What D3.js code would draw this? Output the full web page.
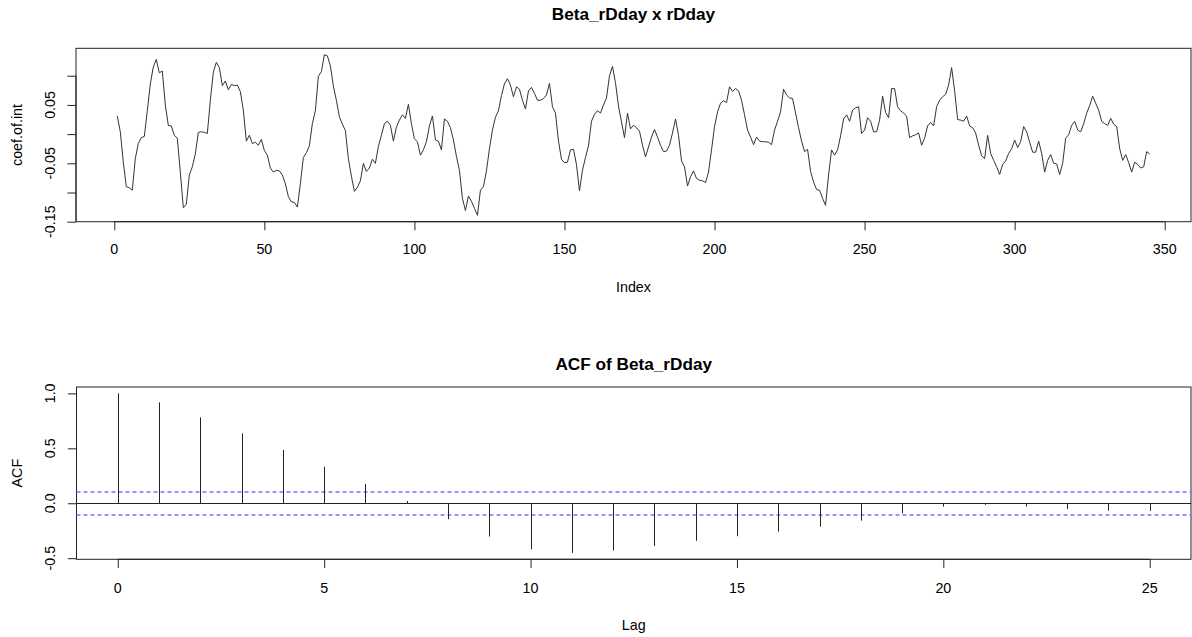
<!DOCTYPE html>
<html>
<head>
<meta charset="utf-8">
<script src="https://cdn.jsdelivr.net/npm/d3@7"></script>
<style>
  html, body { margin: 0; padding: 0; background: #fff; }
  svg { display: block; }
  text { font-family: "Liberation Sans", Arial, Helvetica, sans-serif; fill: #000; }
</style>
</head>
<body>
<svg id="chart" width="1192" height="637"></svg>
<script>
// ---------------- DATA ----------------
const topTitle = "Beta_rDday x rDday";
const topXLabel = "Index";
const topYLabel = "coef.of.int";
// coef.of.int for Index 1..345
const coefValues = [
  0.031, 0.004, -0.048, -0.090, -0.092, -0.096, -0.042, -0.016, -0.006, -0.004,
  0.040, 0.086, 0.115, 0.128, 0.105, 0.108, 0.050, 0.015, 0.014, -0.002,
  -0.007, -0.065, -0.126, -0.120, -0.070, -0.056, -0.034, 0.003, 0.004, 0.003,
  0.001, 0.058, 0.106, 0.123, 0.114, 0.083, 0.091, 0.076, 0.085, 0.083,
  0.084, 0.073, 0.041, -0.012, -0.002, -0.016, -0.014, -0.019, -0.009, -0.028,
  -0.036, -0.058, -0.065, -0.062, -0.063, -0.070, -0.085, -0.107, -0.116, -0.117,
  -0.125, -0.085, -0.040, -0.032, -0.020, 0.018, 0.040, 0.099, 0.107, 0.136,
  0.134, 0.117, 0.082, 0.058, 0.030, 0.017, 0.006, -0.042, -0.072, -0.098,
  -0.091, -0.080, -0.050, -0.064, -0.058, -0.043, -0.050, -0.021, -0.002, 0.018,
  0.022, 0.015, -0.012, 0.012, 0.024, 0.033, 0.027, 0.051, 0.018, -0.008,
  -0.013, -0.036, -0.027, -0.013, 0.014, 0.031, -0.010, -0.012, -0.027, 0.026,
  0.022, 0.011, -0.010, -0.038, -0.062, -0.110, -0.131, -0.106, -0.115, -0.127,
  -0.139, -0.096, -0.090, -0.063, -0.025, 0.007, 0.029, 0.040, 0.066, 0.086,
  0.095, 0.084, 0.064, 0.081, 0.077, 0.058, 0.043, 0.074, 0.080, 0.070,
  0.058, 0.058, 0.061, 0.067, 0.087, 0.047, 0.036, -0.012, -0.043, -0.049,
  -0.048, -0.027, -0.026, -0.052, -0.097, -0.062, -0.040, -0.020, 0.022, 0.034,
  0.040, 0.036, 0.050, 0.062, 0.100, 0.116, 0.088, 0.048, 0.021, -0.006,
  0.036, 0.009, 0.015, 0.011, 0.005, -0.019, -0.039, -0.022, -0.005, 0.008,
  -0.005, -0.019, -0.030, -0.029, -0.019, 0.002, 0.026, -0.002, -0.046, -0.056,
  -0.089, -0.073, -0.063, -0.076, -0.079, -0.080, -0.083, -0.065, -0.027, 0.013,
  0.038, 0.053, 0.057, 0.054, 0.081, 0.073, 0.078, 0.074, 0.058, 0.033,
  0.007, -0.005, -0.018, -0.005, -0.012, -0.013, -0.013, -0.014, -0.018, 0.007,
  0.022, 0.038, 0.077, 0.067, 0.062, 0.061, 0.036, 0.011, -0.012, -0.030,
  -0.026, -0.064, -0.082, -0.095, -0.096, -0.110, -0.122, -0.070, -0.027, -0.036,
  -0.027, -0.003, 0.026, 0.033, 0.022, 0.041, 0.045, 0.047, 0.001, 0.007,
  0.028, 0.022, 0.004, 0.004, 0.024, 0.065, 0.037, 0.028, 0.078, 0.078,
  0.047, 0.040, 0.036, 0.031, -0.006, -0.003, -0.001, 0.002, -0.019, -0.007,
  0.014, 0.020, 0.014, 0.047, 0.058, 0.064, 0.068, 0.084, 0.114, 0.074,
  0.025, 0.024, 0.022, 0.031, 0.014, 0.011, 0.002, -0.019, -0.037, -0.042,
  -0.002, -0.033, -0.045, -0.056, -0.069, -0.052, -0.046, -0.033, -0.025, -0.010,
  -0.023, -0.013, 0.013, 0.004, -0.014, -0.031, -0.031, -0.012, -0.033, -0.065,
  -0.045, -0.035, -0.050, -0.051, -0.069, -0.050, -0.007, -0.001, 0.015, 0.022,
  0.007, 0.004, 0.018, 0.036, 0.049, 0.065, 0.053, 0.041, 0.022, 0.018,
  0.015, 0.027, 0.017, 0.013, -0.025, -0.045, -0.035, -0.049, -0.065, -0.048,
  -0.052, -0.058, -0.056, -0.030, -0.034
];
const topXTicks = [0, 50, 100, 150, 200, 250, 300, 350];
const topYTicks = [-0.15, -0.10, -0.05, 0.00, 0.05, 0.10];
const topYTickLabels = ["-0.15", "", "-0.05", "", "0.05", ""];

const acfTitle = "ACF of Beta_rDday";
const acfXLabel = "Lag";
const acfYLabel = "ACF";
const acfLags = [0,1,2,3,4,5,6,7,8,9,10,11,12,13,14,15,16,17,18,19,20,21,22,23,24,25];
const acfValues = [1.000, 0.918, 0.782, 0.636, 0.485, 0.333, 0.176, 0.021, -0.145, -0.303,
                   -0.420, -0.452, -0.430, -0.388, -0.342, -0.300, -0.258, -0.212, -0.158, -0.091,
                   -0.030, -0.015, -0.030, -0.052, -0.067, -0.070];
const acfCI = 0.1055;
const acfXTicks = [0, 5, 10, 15, 20, 25];
const acfYTicks = [-0.5, 0.0, 0.5, 1.0];
const acfYTickLabels = ["-0.5", "0.0", "0.5", "1.0"];

// ---------------- DRAWING ----------------
const svg = d3.select("#chart");
const FS = 14.3, TFS = 17.2, TICK = 8.6;
const INK = "#222";
const snap = v => Math.round(v) + 0.5;

function rRange(lo, hi) { const e = (hi - lo) * 0.04; return [lo - e, hi + e]; }

function panel(cfg) {
  const g = svg.append("g");
  const x = d3.scaleLinear().domain(cfg.xDomain).range([cfg.left, cfg.right]);
  const y = d3.scaleLinear().domain(cfg.yDomain).range([cfg.bottom, cfg.top]);

  g.append("rect").attr("x", cfg.left).attr("y", cfg.top)
    .attr("width", cfg.right - cfg.left).attr("height", cfg.bottom - cfg.top)
    .attr("fill", "none").attr("stroke", INK).attr("stroke-width", 1);

  const xa = g.append("g").attr("transform", `translate(0,${cfg.bottom})`)
    .call(d3.axisBottom(x).tickValues(cfg.xTicks).tickSize(TICK).tickPadding(0).tickFormat(""));
  xa.select(".domain").remove();
  xa.selectAll(".tick line").attr("stroke", INK);
  g.append("line").attr("x1", x(cfg.xTicks[0])).attr("x2", x(cfg.xTicks[cfg.xTicks.length - 1]))
    .attr("y1", cfg.bottom).attr("y2", cfg.bottom).attr("stroke", INK);
  g.selectAll(".xlab").data(cfg.xTicks).join("text")
    .attr("x", d => x(d)).attr("y", cfg.xLabY)
    .attr("text-anchor", "middle").attr("dominant-baseline", "central")
    .style("font-size", FS + "px").text(d => String(d));

  const ya = g.append("g").attr("transform", `translate(${cfg.left},0)`)
    .call(d3.axisLeft(y).tickValues(cfg.yTicks).tickSize(TICK).tickFormat(""));
  ya.select(".domain").remove();
  ya.selectAll(".tick line").attr("stroke", INK);
  g.append("line").attr("x1", cfg.left).attr("x2", cfg.left)
    .attr("y1", y(cfg.yTicks[0])).attr("y2", y(cfg.yTicks[cfg.yTicks.length - 1])).attr("stroke", INK);
  g.selectAll(".ylab").data(cfg.yTicks.map((v, i) => ({ v, t: cfg.yTickLabels[i] })).filter(d => d.t))
    .join("text")
    .attr("transform", d => `translate(${cfg.yLabX},${y(d.v)}) rotate(-90)`)
    .attr("text-anchor", "middle").attr("dominant-baseline", "central")
    .style("font-size", FS + "px").text(d => d.t);

  g.append("text").attr("x", (cfg.left + cfg.right) / 2).attr("y", cfg.titleY)
    .attr("text-anchor", "middle").attr("dominant-baseline", "central")
    .style("font-size", TFS + "px").style("font-weight", "bold").text(cfg.title);
  g.append("text").attr("x", (cfg.left + cfg.right) / 2).attr("y", cfg.xTitleY)
    .attr("text-anchor", "middle").attr("dominant-baseline", "central")
    .style("font-size", FS + "px").text(cfg.xTitle);
  g.append("text").attr("transform", `translate(${cfg.yTitleX},${(cfg.top + cfg.bottom) / 2}) rotate(-90)`)
    .attr("text-anchor", "middle").attr("dominant-baseline", "central")
    .style("font-size", FS + "px").text(cfg.yTitle);

  return { g, x, y };
}

// top panel: time series
const idx = coefValues.map((v, i) => i + 1);
const tsPanel = panel({
  left: 76, right: 1191, top: 48.3, bottom: 221.7,
  xDomain: rRange(1, coefValues.length),
  yDomain: rRange(d3.min(coefValues), d3.max(coefValues)),
  xTicks: topXTicks, yTicks: topYTicks, yTickLabels: topYTickLabels,
  xLabY: 248.5, yLabX: 49.5, titleY: 13.5, xTitleY: 287, yTitleX: 17,
  title: topTitle, xTitle: topXLabel, yTitle: topYLabel
});
tsPanel.g.append("path")
  .datum(coefValues)
  .attr("fill", "none").attr("stroke", "#333").attr("stroke-width", 1)
  .attr("stroke-linejoin", "round")
  .attr("d", d3.line().x((d, i) => tsPanel.x(idx[i])).y(d => tsPanel.y(d)));

// bottom panel: ACF
const ylo = Math.min(d3.min(acfValues), -acfCI), yhi = Math.max(d3.max(acfValues), acfCI);
const acfPanel = panel({
  left: 76.5, right: 1191, top: 387, bottom: 559.3,
  xDomain: rRange(0, acfLags[acfLags.length - 1]),
  yDomain: rRange(ylo, yhi),
  xTicks: acfXTicks, yTicks: acfYTicks, yTickLabels: acfYTickLabels,
  xLabY: 588, yLabX: 49.5, titleY: 364, xTitleY: 625, yTitleX: 17,
  title: acfTitle, xTitle: acfXLabel, yTitle: acfYLabel
});
acfPanel.g.append("line").attr("x1", 76.5).attr("x2", 1191)
  .attr("y1", snap(acfPanel.y(0))).attr("y2", snap(acfPanel.y(0))).attr("stroke", INK);
[acfCI, -acfCI].forEach(c => {
  const yy = Math.round(acfPanel.y(c));
  acfPanel.g.append("line").attr("x1", 76.5).attr("x2", 1191)
    .attr("y1", yy).attr("y2", yy)
    .attr("stroke", "#7373ff").attr("stroke-width", 1.6).attr("stroke-dasharray", "4,3");
});
acfPanel.g.selectAll(".bar").data(acfLags).join("line")
  .attr("x1", d => snap(acfPanel.x(d))).attr("x2", d => snap(acfPanel.x(d)))
  .attr("y1", snap(acfPanel.y(0))).attr("y2", (d, i) => acfPanel.y(acfValues[i]))
  .attr("stroke", INK).attr("stroke-width", 1);
</script>
</body>
</html>
